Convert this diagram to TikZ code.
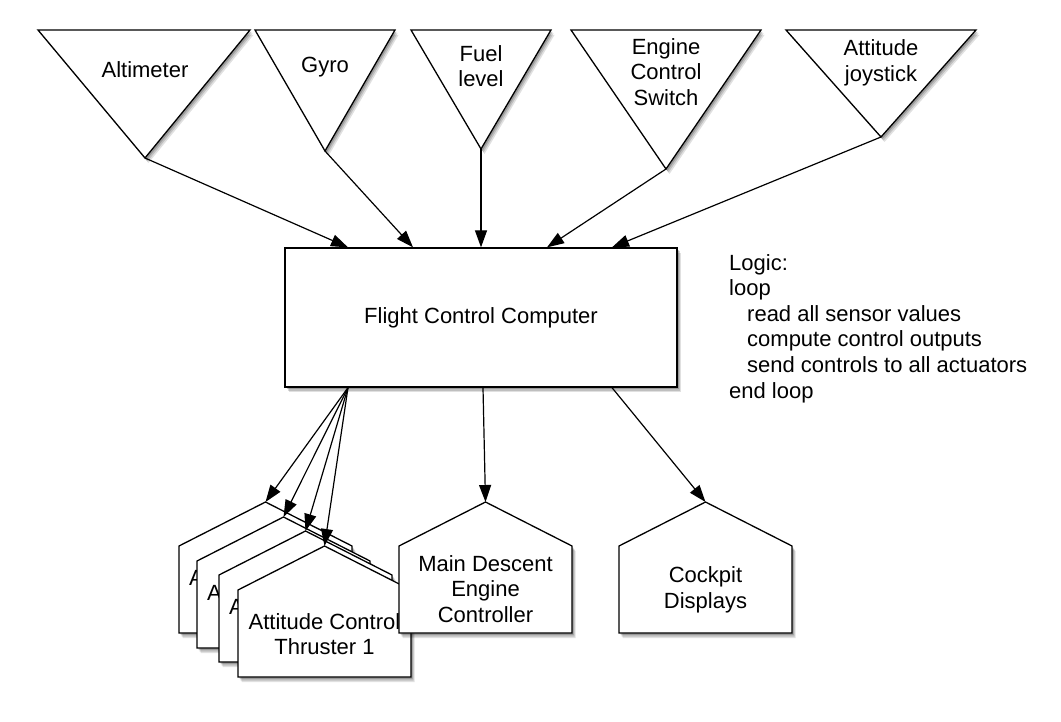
\documentclass[tikz,border=0pt]{standalone}
\usepackage{fontspec}
\setmainfont{Liberation Sans}
\usetikzlibrary{arrows.meta,shadows}

\tikzset{
  block/.style={draw, line width=1.3pt, fill=white,
    drop shadow={shadow xshift=3.5pt, shadow yshift=-5pt, opacity=0.12, fill=black},
    drop shadow={shadow xshift=2.5pt, shadow yshift=-3.5pt, opacity=0.15, fill=black},
    drop shadow={shadow xshift=1.5pt, shadow yshift=-2pt, opacity=0.2, fill=black}},
  flow/.style={-{Triangle[length=17pt,width=12pt]}, line width=1.2pt},
  txt/.style={align=center, inner sep=0pt, font=\fontsize{22}{25.6}\selectfont}
}

% house shaped actuator: name, left x, apex y
\newcommand{\actuator}[3]{%
  \draw[block] (#2,#3+44) -- (#2+86.5,#3) -- (#2+173,#3+44) -- (#2+173,#3+131) -- (#2,#3+131) -- cycle;
  \coordinate (#1) at (#2+86.5,#3);}

\begin{document}
\begin{tikzpicture}[x=1pt,y=-1pt]
\useasboundingbox (0,0) rectangle (1061,722);

% sensors
\coordinate (alt) at (145,158);
\draw[block] (38,30) -- (250,30) -- (alt) -- cycle;
\node[txt] (altT) at (145,70) {Altimeter};

\coordinate (gyro) at (325,151);
\draw[block] (255,30) -- (395,30) -- (gyro) -- cycle;
\node[txt] (gyroT) at (325,67) {Gyro};

\coordinate (fuel) at (481,149);
\draw[block] (411,30) -- (551,30) -- (fuel) -- cycle;
\node[txt] (fuelT) at (481,66) {Fuel\\level};

\coordinate (eng) at (666,169);
\draw[block] (571,30) -- (761,30) -- (eng) -- cycle;
\node[txt] (engT) at (666,72) {Engine\\Control\\Switch};

\coordinate (joy) at (881,137);
\draw[block] (786,30) -- (976,30) -- (joy) -- cycle;
\node[txt] (joyT) at (881,63) {Attitude\\joystick};

% computer
\node[block, txt, minimum width=392pt, minimum height=139pt] (fcc) at (481,317.5) {Flight Control Computer};

\node[txt, align=left, anchor=north west] (logic) at (729,254) {Logic:\\loop\\\hspace{18pt}read all sensor values\\\hspace{18pt}compute control outputs\\\hspace{18pt}send controls to all actuators\\end loop};

% actuators, back to front
\actuator{thr4}{179}{502}
\node[txt, anchor=base west] (thr4T) at (189,585) {A};
\actuator{thr3}{197}{517}
\node[txt, anchor=base west] (thr3T) at (207,600) {A};
\actuator{thr2}{219}{531}
\node[txt, anchor=base west] (thr2T) at (229,614) {A};
\actuator{thr1}{238}{546}
\node[txt] (thr1T) at (324.5,634) {Attitude Control\\Thruster 1};
\actuator{mde}{399}{502}
\node[txt] (mdeT) at (485.5,589) {Main Descent\\Engine\\Controller};
\actuator{cock}{619}{502}
\node[txt] (cockT) at (705.5,590) {Cockpit\\Displays};

% inputs
\draw[flow] (alt) -- ([xshift=-133pt]fcc.north);
\draw[flow] (gyro) -- ([xshift=-68pt]fcc.north);
\draw[flow] (fuel) -- (fcc.north);
\draw[flow] (eng) -- ([xshift=66pt]fcc.north);
\draw[flow] (joy) -- ([xshift=131pt]fcc.north);

% outputs
\foreach \t in {thr4,thr3,thr2,thr1}
  \draw[flow] ([xshift=-133pt]fcc.south) -- (\t);
\draw[flow] ([xshift=2pt]fcc.south) -- (mde);
\draw[flow] ([xshift=131pt]fcc.south) -- (cock);
\end{tikzpicture}
\end{document}
